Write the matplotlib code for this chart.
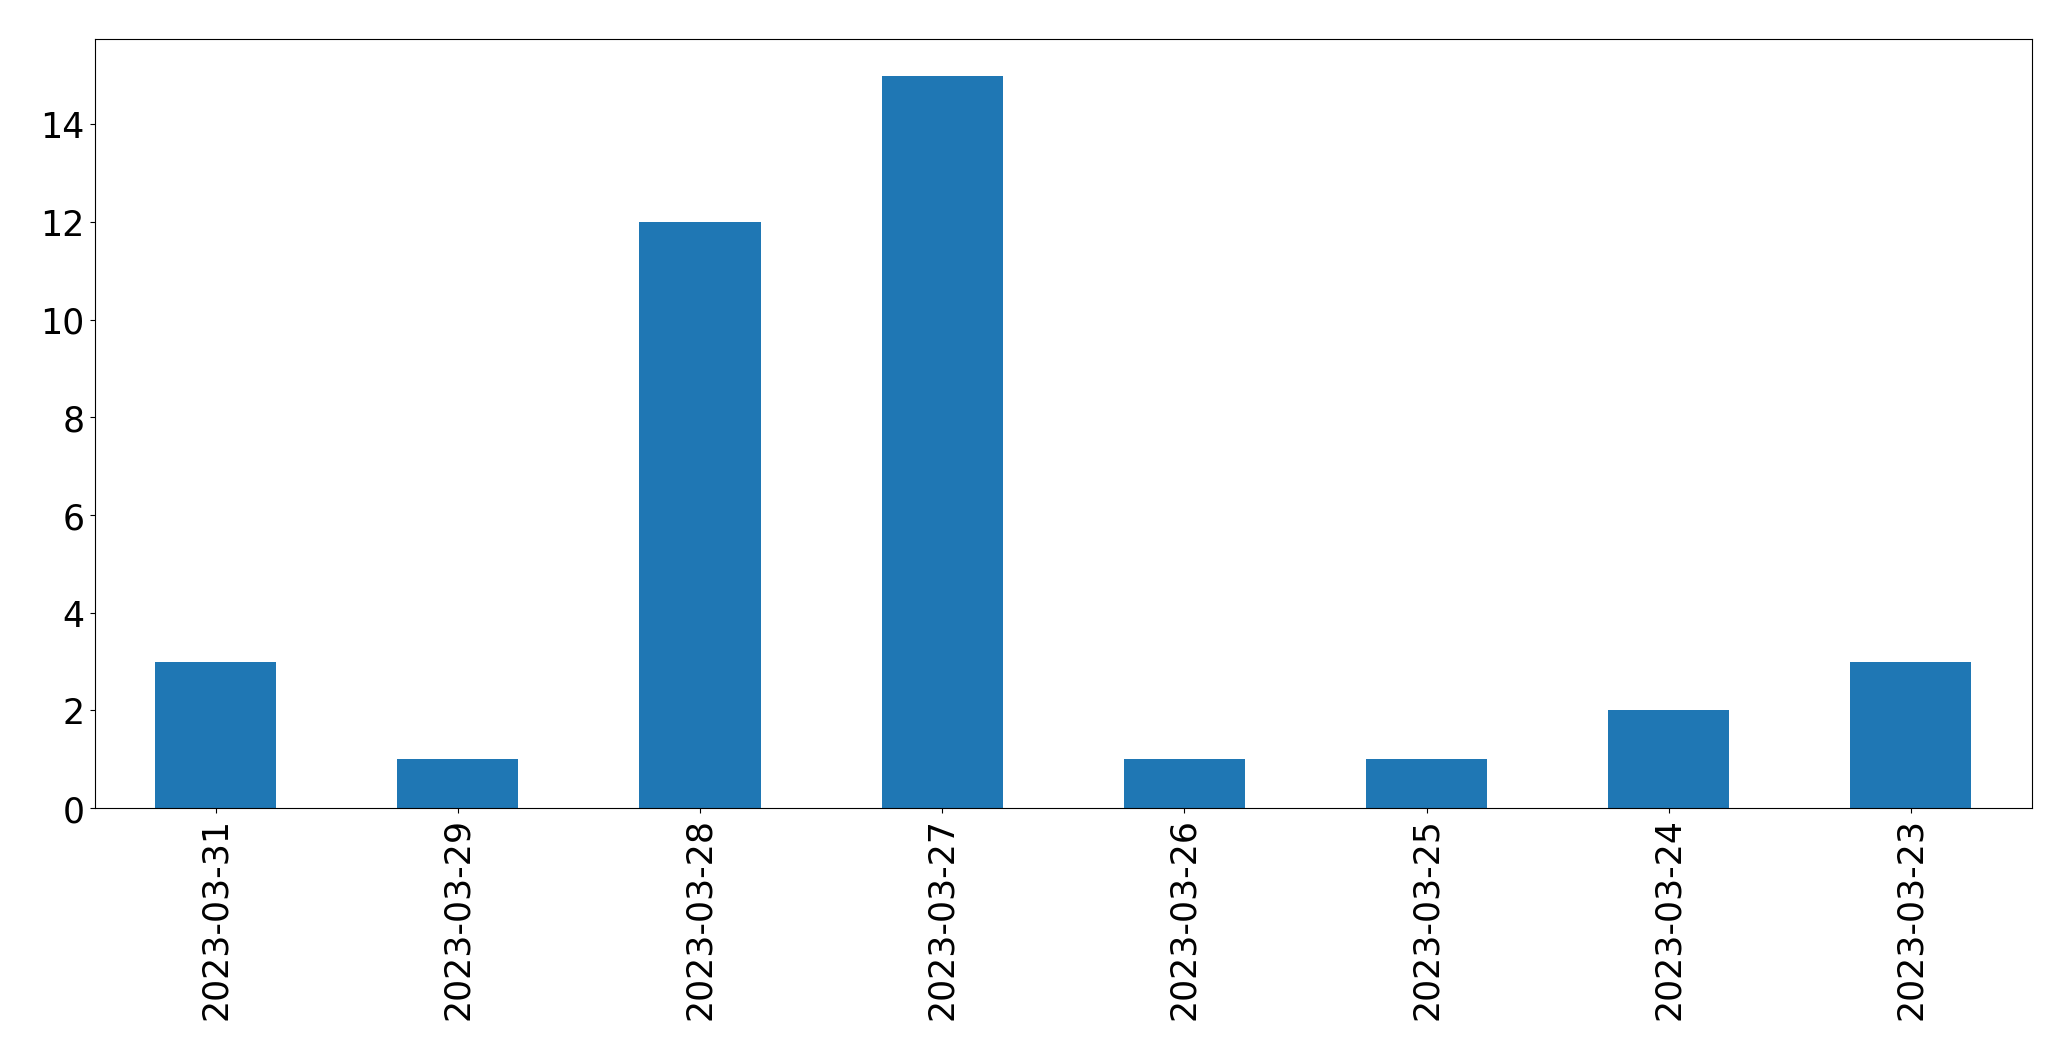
import matplotlib
matplotlib.use("Agg")
import matplotlib.pyplot as plt

dates = ["2023-03-31", "2023-03-29", "2023-03-28", "2023-03-27",
         "2023-03-26", "2023-03-25", "2023-03-24", "2023-03-23"]
counts = [3, 1, 12, 15, 1, 1, 2, 3]

fig = plt.figure(figsize=(20.71, 10.605), dpi=100)
ax = fig.add_axes([94.5 / 2071, 1 - 809 / 1061, (2032 - 94.5) / 2071, (809 - 39.5) / 1061])
x = list(range(len(dates)))
ax.bar(x, counts, width=0.5, color="#1f77b4")
ax.set_xlim(-0.5, len(dates) - 0.5)
ax.set_ylim(0, max(counts) * 1.05)
ax.set_xticks(x)
ax.set_xticklabels(dates, rotation=90, fontsize=25)
ax.tick_params(axis="y", labelsize=25)
fig.savefig("out.png", dpi=100)
